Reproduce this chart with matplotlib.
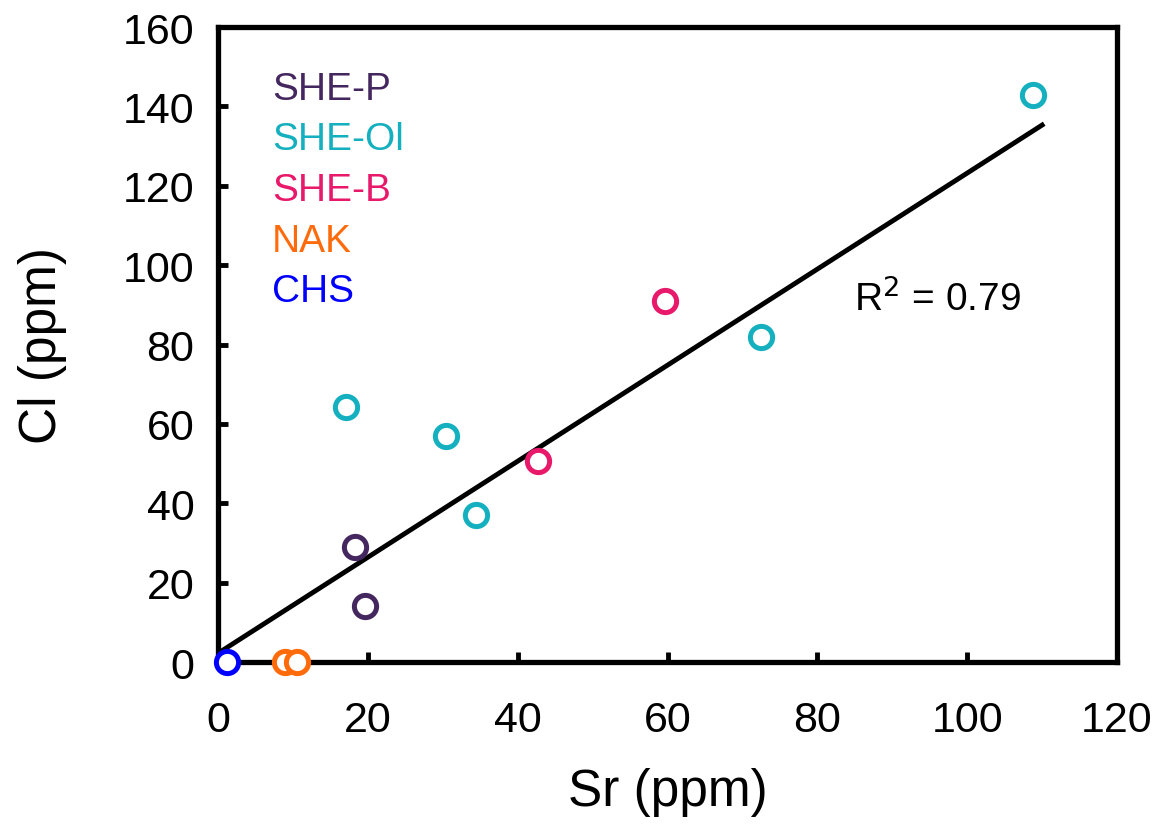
import matplotlib
matplotlib.use("Agg")
import matplotlib.pyplot as plt
import numpy as np

plt.rcParams['font.family'] = ['Liberation Sans', 'DejaVu Sans']

# groups and their data (Sr, Cl in ppm)
groups = ["SHE-P", "SHE-Ol", "SHE-B", "NAK", "CHS"]
colors = ["#45275f", "#14b0bf", "#e8186b", "#ff6a0a", "#0000ff"]

sr_shep = [18.3, 19.6]
cl_shep = [29.0, 14.1]
sr_sheol = [17.1, 30.4, 34.5, 72.5, 108.8]
cl_sheol = [64.2, 56.9, 37.0, 81.9, 142.8]
sr_sheb = [42.7, 59.6]
cl_sheb = [50.6, 90.9]
sr_nak = [8.9, 10.5]
cl_nak = [0.0, 0.0]
sr_chs = [1.2]
cl_chs = [0.0]

# regression line
slope = 1.21
intercept = 2.2
fit_range = [0.5, 110.0]
r2 = 0.79

xs = [sr_shep, sr_sheol, sr_sheb, sr_nak, sr_chs]
ys = [cl_shep, cl_sheol, cl_sheb, cl_nak, cl_chs]

fig = plt.figure(figsize=(11.67, 8.29), dpi=100)
ax = fig.add_axes([0.1868, 0.2002, 0.9572 - 0.1868, 0.9662 - 0.2002])

xf = np.array(fit_range)
ax.plot(xf, slope * xf + intercept, color="black", lw=3.5, zorder=2)

for x, y, c in zip(xs, ys, colors):
    ax.plot(x, y, "o", ms=16, mfc="white", mec=c, mew=3.6, ls="none",
            zorder=3, clip_on=False)

ax.set_xlim(0, 120)
ax.set_ylim(0, 160)
ax.set_xticks(np.arange(0, 121, 20))
ax.set_yticks(np.arange(0, 161, 20))
ax.tick_params(direction="in", length=7, width=3.5, labelsize=31)
ax.tick_params(axis="x", pad=27)
ax.tick_params(axis="y", pad=17)
for s in ax.spines.values():
    s.set_linewidth(3.8)

ax.set_xlabel("Sr (ppm)", fontsize=37, labelpad=20)
ax.set_ylabel("Cl (ppm)", fontsize=37, labelpad=40)

for i, (g, c) in enumerate(zip(groups, colors)):
    ax.text(0.06, 0.887 - i * 0.0797, g, color=c, fontsize=28,
            transform=ax.transAxes, va="baseline")

ax.text(84.9, 91.7, "R$^2$ = %.2f" % r2, fontsize=28, va="center")

fig.savefig("out.png", dpi=100)
